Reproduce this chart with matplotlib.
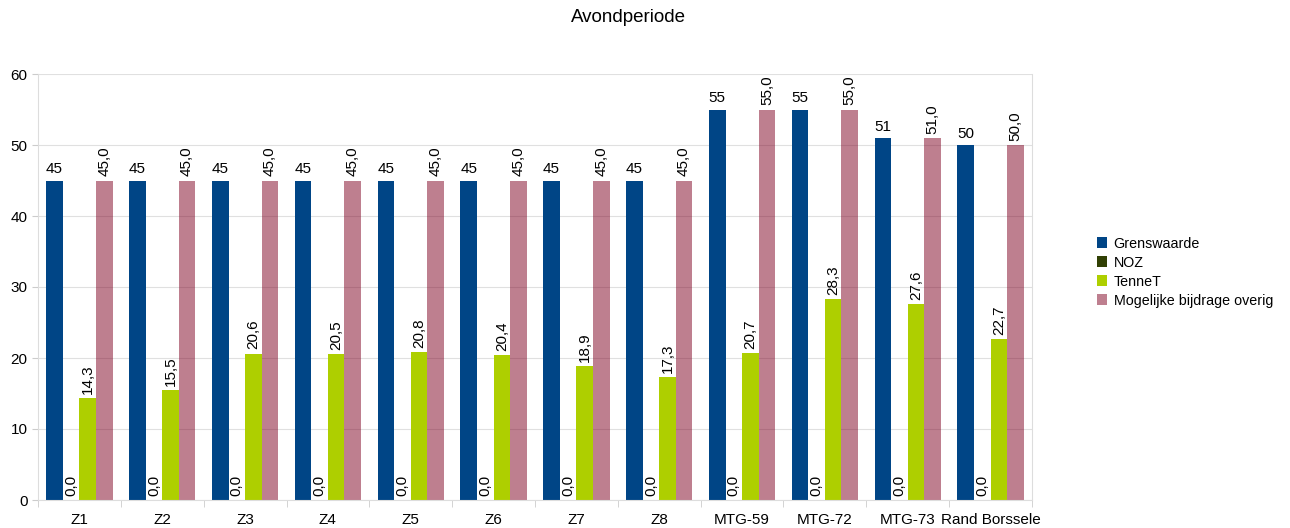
import matplotlib
matplotlib.use("Agg")
import matplotlib.pyplot as plt
import numpy as np

plt.rcParams['font.family'] = ['Liberation Sans', 'DejaVu Sans']

categories = ["Z1", "Z2", "Z3", "Z4", "Z5", "Z6", "Z7", "Z8",
              "MTG-59", "MTG-72", "MTG-73", "Rand Borssele"]
grenswaarde = [45, 45, 45, 45, 45, 45, 45, 45, 55, 55, 51, 50]
noz = [0.0] * 12
tennet = [14.3, 15.5, 20.6, 20.5, 20.8, 20.4, 18.9, 17.3, 20.7, 28.3, 27.6, 22.7]
overig = [45.0, 45.0, 45.0, 45.0, 45.0, 45.0, 45.0, 45.0, 55.0, 55.0, 51.0, 50.0]

fig = plt.figure(figsize=(12.9, 5.28), dpi=100)
ax = fig.add_axes([38/1290, 28/528, (1032-38)/1290, (500-74)/528])

x = np.arange(len(categories))
w = 0.2
series = [
    ("Grenswaarde", grenswaarde, dict(color="#004586")),
    ("NOZ", noz, dict(color="#314004")),
    ("TenneT", tennet, dict(color="#aecf00")),
    ("Mogelijke bijdrage overig", overig, dict(color="#7e0021", alpha=0.5)),
]

def comma(v):
    return f"{v:.1f}".replace(".", ",")

for i, (name, vals, style) in enumerate(series):
    pos = x + (i - 1.5) * w
    ax.bar(pos, vals, width=w, label=name, zorder=2, linewidth=0, **style)
    for p, v in zip(pos, vals):
        if i == 0:
            ax.text(p, v + 0.6, f"{v:.0f}", ha="center", va="bottom", fontsize=11)
        else:
            ax.text(p, v + 0.6, comma(v), ha="center", va="bottom",
                    rotation=90, fontsize=11)

ax.set_xlim(-0.5, len(categories) - 0.5)
ax.set_ylim(0, 60)
ax.set_yticks(range(0, 61, 10))
ax.yaxis.grid(True, color="#e0e0e0", linewidth=0.8, zorder=0)
ax.set_axisbelow(True)

ax.set_xticks(x)
ax.set_xticklabels(categories, fontsize=11)
ax.set_xticks(np.arange(-0.5, len(categories), 1), minor=True)
ax.tick_params(axis="x", which="major", length=0, pad=9)
ax.tick_params(axis="x", which="minor", length=5, color="#cccccc")
ax.tick_params(axis="y", length=4, color="#cccccc", labelsize=11)

for s in ax.spines.values():
    s.set_color("#dddddd")
    s.set_linewidth(0.8)
ax.spines["top"].set_visible(False)

fig.text(628/1290, 1 - 17/528, "Avondperiode", ha="center", va="center", fontsize=13.5)

leg = ax.legend(loc="center left", bbox_to_anchor=(1.052, 0.535), frameon=False,
                fontsize=10.3, handlelength=0.75, handleheight=0.75,
                handletextpad=0.45, labelspacing=0.35)

fig.savefig("out.png", dpi=100)
